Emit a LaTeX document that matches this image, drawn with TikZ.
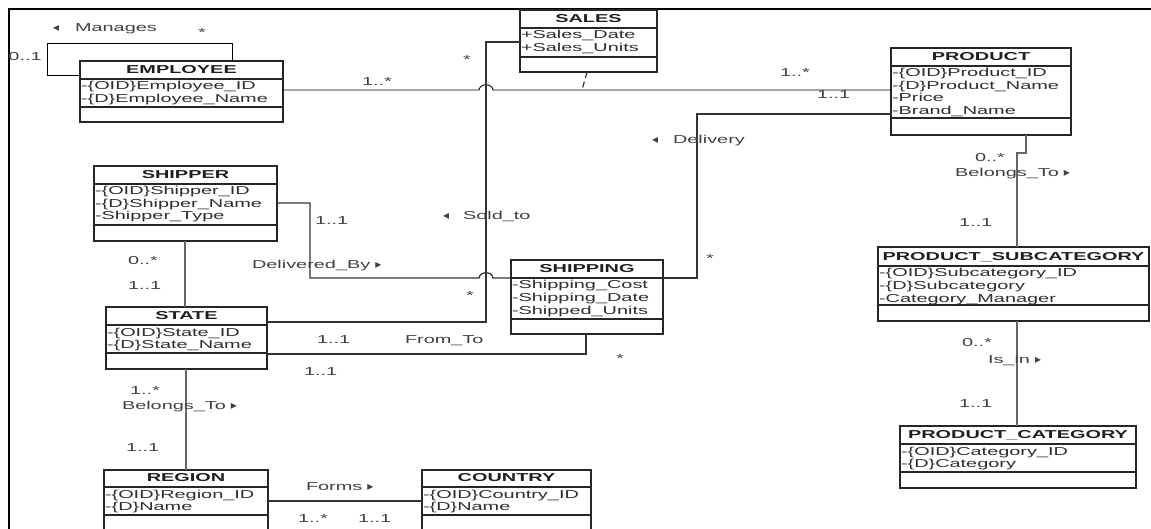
\documentclass[tikz,border=0pt]{standalone}
\usepackage{fontspec}
\setmainfont{Liberation Sans}[FakeStretch=1.73]
\newfontfamily\symfont{DejaVu Sans}
% small filled triangle giving the reading direction of an association
\newcommand\umltri[1]{{\symfont\fontsize{12}{12}\selectfont #1}}
% left-pointing triangle followed by the association name
\newcommand\leftname[2]{\makebox[#1pt][l]{\umltri{◂}}#2}
% class box: name, left, top, right, bottom, title rule, attribute rule, title, attributes
\newcommand\classbox[9]{%
  \node[classbox, anchor=north west, minimum width={#4-#2}, minimum height={#5-#3}] (#1) at (#2,#3) {};
  \draw[classsep] (#1.west |- 0,#6) -- (#1.east |- 0,#6);
  \draw[classsep] (#1.west |- 0,#7) -- (#1.east |- 0,#7);
  \node[titletext] (#1-title) at ({(#2+#4)/2},#6-5.7) {#8};
  \foreach \a [count=\i from 0] in {#9} {\node[attrtext] (#1-attr\i) at (#2+1,#6+11+12.5*\i) {\a};}
}
\begin{document}
\begin{tikzpicture}[x=1pt,y=-1pt,
  every node/.style={inner sep=0pt, outer sep=0pt, font=\fontsize{11.5}{12.5}\selectfont, text=black!82},
  classbox/.style={draw=black!85, line width=1.3pt, fill=white, rectangle},
  classsep/.style={draw=black!85, line width=1.2pt},
  titletext/.style={font=\fontsize{11.5}{12.5}\selectfont\bfseries, text=black!88, anchor=base},
  attrtext/.style={anchor=base west},
  lbl/.style={anchor=base west, text=black!75},
  conn/.style={draw=black, line width=0.9pt},
  connmid/.style={draw=black!80, line width=1.3pt},
  connthick/.style={draw=black!60, line width=2pt},
  assoc/.style={draw=black!80, line width=1.2pt, dash pattern=on 6pt off 4pt},
]
\path[use as bounding box, fill=white] (0,0) rectangle (1151,529);
\clip (0,0) rectangle (1151,529);

% outer frame
\draw[line width=2.6pt, black] (9,540) -- (9,9) -- (1160,9);

% classes
\classbox{emp}{80}{61}{283}{122}{79}{107}{EMPLOYEE}{-\{OID\}Employee\_ID, -\{D\}Employee\_Name}
\classbox{sales}{520}{10}{657}{72}{28}{57}{SALES}{+Sales\_Date, +Sales\_Units}
\classbox{prod}{891}{48}{1071}{135}{66}{118}{PRODUCT}{-\{OID\}Product\_ID, -\{D\}Product\_Name, -Price, -Brand\_Name}
\classbox{shipper}{94}{166}{277}{241}{184}{225}{SHIPPER}{-\{OID\}Shipper\_ID, -\{D\}Shipper\_Name, -Shipper\_Type}
\classbox{state}{106}{307}{267}{369}{325}{353}{STATE}{-\{OID\}State\_ID, -\{D\}State\_Name}
\classbox{shipping}{511}{260}{663}{334}{278}{319}{SHIPPING}{-Shipping\_Cost, -Shipping\_Date, -Shipped\_Units}
\classbox{subcat}{878}{247}{1149}{321}{266}{305}{PRODUCT\_SUBCATEGORY}{-\{OID\}Subcategory\_ID, -\{D\}Subcategory, -Category\_Manager}
\classbox{cat}{900}{426}{1136}{488}{444}{472}{PRODUCT\_CATEGORY}{-\{OID\}Category\_ID, -\{D\}Category}
\classbox{region}{104}{470}{268}{545}{487}{515}{REGION}{-\{OID\}Region\_ID, -\{D\}Name}
\classbox{country}{422}{470}{591}{545}{487}{515}{COUNTRY}{-\{OID\}Country\_ID, -\{D\}Name}

% associations
\draw[conn] (emp.west |- 0,75) -- (47,75) -- (47,43) -- (232,43) -- (232,0 |- emp.north);
\draw[conn] (emp.east |- 0,90) -- (479,90) .. controls (480,83) and (492,83) .. (493,90) -- (prod.west |- 0,90);
\coordinate (salesjoin) at (582,90);
\draw[assoc] (587,0 |- sales.south) -- (salesjoin);
\draw[connmid] (sales.west |- 0,42) -- (486,42) -- (486,322) -- (state.east |- 0,322);
\draw[connmid] (shipping.east |- 0,278) -- (697,278) -- (697,114) -- (prod.west |- 0,114);
\draw[connmid] (shipper.east |- 0,203) -- (310,203) -- (310,278) -- (479,278) .. controls (480,271) and (492,271) .. (493,278) -- (shipping.west |- 0,278);
\draw[connmid] (586,0 |- shipping.south) -- (586,354) -- (state.east |- 0,354);
\draw[connthick] (185,0 |- shipper.south) -- (185,0 |- state.north);
\draw[connthick] (186,0 |- state.south) -- (186,0 |- region.north);
\draw[connmid] (region.east |- 0,501) -- (country.west |- 0,501);
\draw[connthick] (1026,0 |- prod.south) -- (1026,153) -- (1017,153) -- (1017,0 |- subcat.north);
\draw[connthick] (1017,0 |- subcat.south) -- (1017,0 |- cat.north);

% association names and multiplicities
\node[lbl] (l-manages) at (53,31.5) {\leftname{22}{Manages}};
\node[lbl] (m-mgr-many) at (198,36.5) {*};
\node[lbl] (m-mgr-one) at (8.5,61) {0..1};
\node[lbl] (m-emp) at (362,85.5) {1..*};
\node[lbl] (m-sales) at (463,63.5) {*};
\node[lbl] (m-prod-many) at (780,77) {1..*};
\node[lbl] (m-prod-one) at (817,98.5) {1..1};
\node[lbl] (l-delivery) at (652,143.3) {\leftname{21}{Delivery}};
\node[lbl] (m-delivery) at (706,263) {*};
\node[lbl] (m-prod-sub) at (975,161.5) {0..*};
\node[lbl] (l-belongs-prod) at (955,176.7) {Belongs\_To\hspace{5pt}\umltri{▸}};
\node[lbl] (m-sub-top) at (959,227) {1..1};
\node[lbl] (m-sub-bottom) at (962,346) {0..*};
\node[lbl] (l-isin) at (988,363) {Is\_in\hspace{5pt}\umltri{▸}};
\node[lbl] (m-cat) at (959,407) {1..1};
\node[lbl] (m-shipper) at (315,225) {1..1};
\node[lbl] (l-delivered) at (252,268.3) {Delivered\_By\hspace{5pt}\umltri{▸}};
\node[lbl] (m-shipper-state) at (128,265) {0..*};
\node[lbl] (m-state-shipper) at (128,290) {1..1};
\node[lbl] (l-soldto) at (443,220) {\leftname{20}{Sold\_to}};
\node[lbl] (m-soldto) at (466,300) {*};
\node[lbl] (m-state-from) at (317,343) {1..1};
\node[lbl] (l-fromto) at (405,343) {From\_To};
\node[lbl] (m-state-to) at (304,375) {1..1};
\node[lbl] (m-shipping) at (616,362) {*};
\node[lbl] (m-state-region) at (130,394) {1..*};
\node[lbl] (l-belongs-state) at (122,409.3) {Belongs\_To\hspace{5pt}\umltri{▸}};
\node[lbl] (m-region) at (126,451) {1..1};
\node[lbl] (l-forms) at (306,490) {Forms\hspace{5pt}\umltri{▸}};
\node[lbl] (m-region-country) at (298,522) {1..*};
\node[lbl] (m-country) at (358,522) {1..1};
\end{tikzpicture}
\end{document}
